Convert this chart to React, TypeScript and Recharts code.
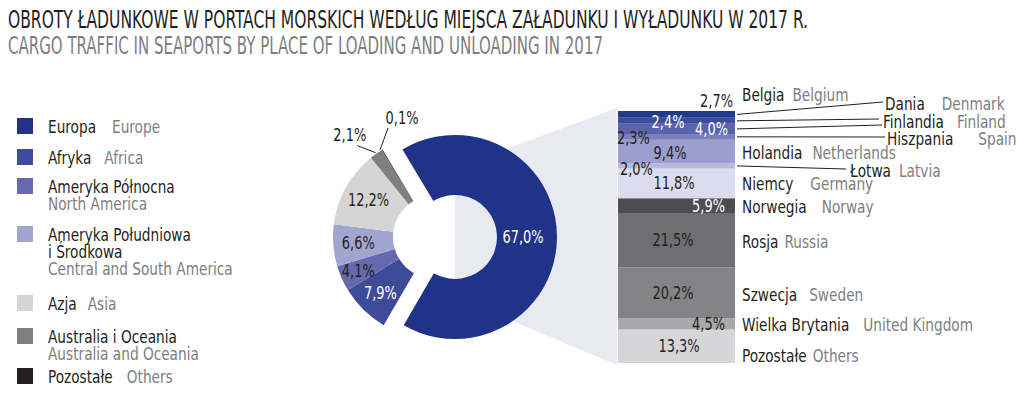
import React from 'react';
import { PieChart, Pie, Cell, BarChart, Bar, XAxis, YAxis, LabelList } from 'recharts';

// regions (donut)
const regionPl = ['Europa', 'Afryka', 'Ameryka Północna', 'Ameryka Południowa|i Środkowa', 'Azja', 'Australia i Oceania', 'Pozostałe'];
const regionEn = ['Europe', 'Africa', 'North America', 'Central and South America', 'Asia', 'Australia and Oceania', 'Others'];
const regionShare = [67.0, 7.9, 4.1, 6.6, 12.2, 2.1, 0.1];

// european countries (stacked bar)
const countryPl = ['Belgia', 'Dania', 'Finlandia', 'Hiszpania', 'Holandia', 'Łotwa', 'Niemcy', 'Norwegia', 'Rosja', 'Szwecja', 'Wielka Brytania', 'Pozostałe'];
const countryEn = ['Belgium', 'Denmark', 'Finland', 'Spain', 'Netherlands', 'Latvia', 'Germany', 'Norway', 'Russia', 'Sweden', 'United Kingdom', 'Others'];
const countryShare = [2.7, 2.4, 4.0, 2.3, 9.4, 2.0, 11.8, 5.9, 21.5, 20.2, 4.5, 13.3];

const titlePl = 'OBROTY ŁADUNKOWE W PORTACH MORSKICH WEDŁUG MIEJSCA ZAŁADUNKU I WYŁADUNKU W 2017 R.';
const titleEn = 'CARGO TRAFFIC IN SEAPORTS BY PLACE OF LOADING AND UNLOADING IN 2017';

const FONT = "'DejaVu Sans Condensed', 'Liberation Sans Narrow', sans-serif";
const DARK = '#231f20';
const GREY = '#7d7e81';
const SX = 0.845; // squeeze for names
const SXN = 0.8; // squeeze for numbers

const regionColors = ['#1f3389', '#3d4b99', '#6569ad', '#a3a5d1', '#d5d5d6', '#7f7f81', '#231f20'];
const countryColors = ['#223a8e', '#3c4d9c', '#5b63ab', '#7b7fbb', '#9c9ecd', '#b8badc', '#dcdcee', '#4d4d4f', '#6f6f71', '#848486', '#a9a9ab', '#d6d6d8'];

const pct = (v: number) => v.toFixed(1).replace('.', ',') + '%';
const RADIAN = Math.PI / 180;
const polar = (cx: number, cy: number, r: number, a: number) => ({ x: cx + r * Math.cos(a * RADIAN), y: cy - r * Math.sin(a * RADIAN) });

// condensed text helper
const T = ({ x, y, anchor = 'start', sx = SX, fill = DARK, children }: any) => (
  <text
    transform={`translate(${x},${y}) scale(${sx},1)`}
    textAnchor={anchor}
    dominantBaseline="central"
    fill={fill}
    fontFamily={FONT}
    fontSize={18}
  >
    {children}
  </text>
);

// label placement in the donut: radius / colour, or callout [startDa, lineDa, lineR, textDa, textR]
const regionLabelStyle: any[] = [
  { r: 68, color: '#fff' },
  { r: 78, color: '#fff' },
  { r: 84, color: DARK },
  { r: 77, color: DARK },
  { r: 76, color: DARK },
  { callout: [0, 5.2, 120, 4.7, 133] },
  { callout: [1.1, -7.9, 118.7, -15.7, 123.5] },
];

// value label placement in the bar: anchor, x from bar left, dy from segment middle
const barValueStyle: any[] = [
  { anchor: 'end', x: 115, dy: -13, color: DARK },
  { anchor: 'middle', x: 50, dy: 1, color: '#fff' },
  { anchor: 'end', x: 110, dy: 0, color: '#fff' },
  { anchor: 'start', x: -1, dy: 1, color: DARK },
  { anchor: 'middle', x: 52, dy: 1.5, color: DARK },
  { anchor: 'start', x: 2, dy: 3, color: DARK },
  { anchor: 'middle', x: 56, dy: 0, color: DARK },
  { anchor: 'end', x: 107, dy: 0, color: '#fff' },
  { anchor: 'middle', x: 55, dy: 0, color: DARK },
  { anchor: 'middle', x: 55, dy: 0, color: DARK },
  { anchor: 'end', x: 107, dy: 0, color: DARK },
  { anchor: 'middle', x: 61, dy: 0, color: DARK },
];

// country name placement (chart coords), gap before english name, optional leader end
const countryNameStyle: any[] = [
  { x: 142, y: 15, gap: 8, line: [283, 22] },
  { x: 285, y: 24, gap: 17, line: [279, 39] },
  { x: 283, y: 42, gap: 13, line: [282, 45] },
  { x: 287, y: 59, gap: 25, line: [285, 57] },
  { x: 142, y: 73, gap: 10 },
  { x: 250, y: 91, gap: 8, line: [246, 89] },
  { x: 142, y: 104, gap: 17 },
  { x: 142, y: 127, gap: 15 },
  { x: 142, y: 162, gap: 6 },
  { x: 142, y: 215, gap: 12 },
  { x: 142, y: 245, gap: 14 },
  { x: 142, y: 276, gap: 6 },
];

const legendTop = [118, 149, 178, 226, 295, 328, 368];
const legendGap = [16, 13, 0, 0, 11, 0, 14];

const pieData = regionPl.map((name, i) => ({ name: name.replace('|', ' '), value: regionShare[i] }));
const barRow = [Object.fromEntries([['name', 'Europa'], ...countryShare.map((v, i) => [`c${i}`, v])])];

const makePieLabel = (europe: boolean) => (props: any) => {
  const { cx, cy, midAngle, outerRadius, index } = props;
  if ((index === 0) !== europe) return null;
  const st = regionLabelStyle[index];
  const text = pct(regionShare[index]);
  if (st.callout) {
    const [sDa, lDa, lR, tDa, tR] = st.callout;
    const p0 = polar(cx, cy, outerRadius + 1, midAngle + sDa);
    const p1 = polar(cx, cy, lR, midAngle + lDa);
    const pt = polar(cx, cy, tR, midAngle + tDa);
    return (
      <g key={`pl-${index}`}>
        <line x1={p0.x} y1={p0.y} x2={p1.x} y2={p1.y} stroke={DARK} strokeWidth={1} />
        <T x={pt.x} y={pt.y} anchor="middle" sx={SXN}>{text}</T>
      </g>
    );
  }
  const p = polar(cx, cy, st.r, midAngle);
  return (
    <g key={`pl-${index}`}>
      <T x={p.x} y={p.y} anchor="middle" sx={SXN} fill={st.color}>{text}</T>
    </g>
  );
};

const makeBarLabel = (i: number) => (props: any) => {
  const vb = props.viewBox || props;
  const x = Number(vb.x);
  const w = Number(vb.width);
  const top = Math.min(Number(vb.y), Number(vb.y) + Number(vb.height));
  const mid = top + Math.abs(Number(vb.height)) / 2;
  const v = barValueStyle[i];
  const n = countryNameStyle[i];
  return (
    <g key={`bl-${i}`}>
      <T x={x + v.x} y={mid + v.dy} anchor={v.anchor} sx={SXN} fill={v.color}>{pct(countryShare[i])}</T>
      {n.line && <line x1={x + w + 2} y1={mid} x2={n.line[0]} y2={n.line[1]} stroke={DARK} strokeWidth={1} />}
      <T x={n.x} y={n.y}>
        {countryPl[i]}
        <tspan dx={n.gap / SX} fill={GREY}>{countryEn[i]}</tspan>
      </T>
    </g>
  );
};

const Legend = () => (
  <g>
    {regionPl.map((name, i) => {
      const lines = name.split('|');
      const top = legendTop[i];
      const y0 = top + 9;
      const inline = legendGap[i] > 0;
      return (
        <g key={name}>
          <rect x={17} y={top} width={16} height={16} fill={regionColors[i]} />
          {lines.map((l, k) => (
            <T key={l} x={48} y={y0 + k * 17}>
              {l}
              {inline && <tspan dx={legendGap[i] / SX} fill={GREY}>{regionEn[i]}</tspan>}
            </T>
          ))}
          {!inline && (
            <T x={48} y={y0 + lines.length * 17 + 0.5} fill={GREY}>{regionEn[i]}</T>
          )}
        </g>
      );
    })}
  </g>
);

export default function App() {
  return (
    <div style={{ position: 'absolute', left: 0, top: 0, width: 1024, height: 398, background: '#fff', overflow: 'hidden' }}>
      <svg width={1024} height={398} style={{ position: 'absolute', left: 0, top: 0 }}>
        <polygon points="455,168 617,108 617,365 455,297" fill="#e9e9f2" />
      </svg>
      <div style={{ position: 'absolute', left: 300, top: 90 }}>
        <PieChart width={320} height={290} margin={{ top: 0, right: 0, bottom: 0, left: 0 }}>
          <Pie
            data={pieData}
            dataKey="value"
            cx={155}
            cy={147}
            innerRadius={42}
            outerRadius={102}
            startAngle={121}
            endAngle={-239}
            stroke="none"
            label={makePieLabel(true)}
            labelLine={false}
            isAnimationActive={false}
          >
            {pieData.map((d, i) => (
              <Cell key={`e-${i}`} fill={i === 0 ? regionColors[0] : 'none'} stroke="none" />
            ))}
          </Pie>
          <Pie
            data={pieData}
            dataKey="value"
            cx={135}
            cy={147}
            innerRadius={42}
            outerRadius={102}
            startAngle={121}
            endAngle={-239}
            stroke="none"
            label={makePieLabel(false)}
            labelLine={false}
            isAnimationActive={false}
          >
            {pieData.map((d, i) => (
              <Cell key={`r-${i}`} fill={i === 0 ? 'none' : regionColors[i]} stroke="none" />
            ))}
          </Pie>
        </PieChart>
      </div>
      <div style={{ position: 'absolute', left: 600, top: 80 }}>
        <BarChart width={424} height={300} data={barRow} margin={{ top: 31, right: 289, bottom: 17, left: 18 }} barCategoryGap={0} barGap={0}>
          <XAxis dataKey="name" hide />
          <YAxis type="number" domain={[0, 100]} hide />
          {countryShare.map((_, k) => {
            const i = countryShare.length - 1 - k;
            return (
              <Bar key={`c${i}`} dataKey={`c${i}`} stackId="eu" fill={countryColors[i]} isAnimationActive={false}>
                <LabelList dataKey={`c${i}`} content={makeBarLabel(i)} />
              </Bar>
            );
          })}
        </BarChart>
      </div>
      <svg width={1024} height={398} style={{ position: 'absolute', left: 0, top: 0, pointerEvents: 'none' }}>
        <text x={8} y={28} fontFamily={FONT} fontSize={24} fill={DARK} textLength={800} lengthAdjust="spacingAndGlyphs">{titlePl}</text>
        <text x={8} y={54} fontFamily={FONT} fontSize={24} fill={GREY} textLength={595} lengthAdjust="spacingAndGlyphs">{titleEn}</text>
        <Legend />
      </svg>
    </div>
  );
}
